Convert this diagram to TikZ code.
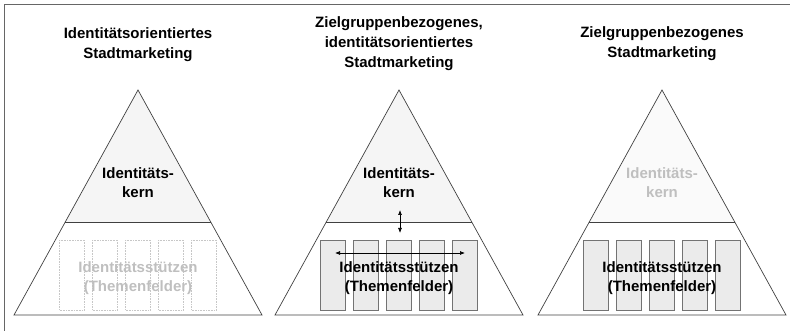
\documentclass[tikz,border=0pt]{standalone}
\usepackage{fontspec}
\setmainfont{Liberation Sans}
\usetikzlibrary{arrows.meta}

\tikzset{
  outline/.style={draw=black!75, line width=0.7pt},
  corefill/.style={fill=black!4},
  pillar/.style={draw=black!55, fill=black!8, line width=0.6pt, minimum width=25pt, minimum height=70pt, inner sep=0pt},
  fadedpillar/.style={draw=black!22, densely dotted, line width=0.6pt, minimum width=25pt, minimum height=70pt, inner sep=0pt},
  title/.style={align=center, font=\fontsize{15}{20}\selectfont\bfseries},
  label/.style={align=center, font=\fontsize{15}{19}\selectfont\bfseries},
  faded/.style={text=black!25},
  twoway/.style={{Latex[length=5pt,width=4pt]}-{Latex[length=5pt,width=4pt]}, line width=0.7pt}
}

\begin{document}
\begin{tikzpicture}[x=1pt, y=-1pt]
  \useasboundingbox (0,0) rectangle (790,331);
  \draw[black!60, line width=0.8pt] (4,331) -- (4,4) -- (790,4);

  % left pyramid
  \begin{scope}[xshift=138pt]
    \node[title] (t1) at (0,45) {Identitätsorientiertes\\Stadtmarketing};
    \fill[corefill] (0,90) -- (72.7,222) -- (-72.7,222) -- cycle;
    \draw[outline] (0,90) -- (124,315) -- (-124,315) -- cycle;
    \draw[outline] (-72.7,222) -- (72.7,222);
    \foreach \i in {-2,...,2}
      \node[fadedpillar] (a\i) at (\i*33,275) {};
    \node[label] (k1) at (0,183) {Identitäts-\\kern};
    \node[label, faded] (s1) at (0,278) {Identitätsstützen\\(Themenfelder)};
  \end{scope}

  % middle pyramid
  \begin{scope}[xshift=399pt]
    \node[title] (t2) at (0,44) {Zielgruppenbezogenes,\\identitätsorientiertes\\Stadtmarketing};
    \fill[corefill] (0,90) -- (72.7,222) -- (-72.7,222) -- cycle;
    \draw[outline] (0,90) -- (124,315) -- (-124,315) -- cycle;
    \draw[outline] (-72.7,222) -- (72.7,222);
    \foreach \i in {-2,...,2}
      \node[pillar] (b\i) at (\i*33,275) {};
    \node[label] (k2) at (0,183) {Identitäts-\\kern};
    \node[label] (s2) at (0,278) {Identitätsstützen\\(Themenfelder)};
    \coordinate (up) at (1,210);
    \coordinate (down) at (1,233);
    \coordinate (west) at (-64,253);
    \coordinate (east) at (66,253);
    \draw[twoway] (up) -- (down);
    \draw[twoway] (west) -- (east);
  \end{scope}

  % right pyramid
  \begin{scope}[xshift=662pt]
    \node[title] (t3) at (0,44) {Zielgruppenbezogenes\\Stadtmarketing};
    \fill[black!2] (0,90) -- (72.7,222) -- (-72.7,222) -- cycle;
    \draw[outline] (0,90) -- (124,315) -- (-124,315) -- cycle;
    \draw[outline] (-72.7,222) -- (72.7,222);
    \foreach \i in {-2,...,2}
      \node[pillar] (c\i) at (\i*33,275) {};
    \node[label, faded] (k3) at (0,183) {Identitäts-\\kern};
    \node[label] (s3) at (0,278) {Identitätsstützen\\(Themenfelder)};
  \end{scope}
\end{tikzpicture}
\end{document}
